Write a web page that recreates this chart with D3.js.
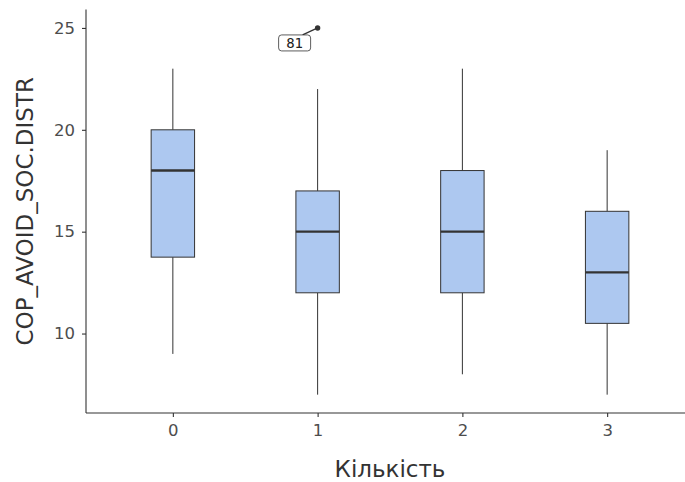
<!DOCTYPE html>
<html>
<head>
<meta charset="utf-8">
<script src="https://cdn.jsdelivr.net/npm/d3@7"></script>
<style>
  body { margin: 0; background: #fff; }
  svg { display: block; font-family: "DejaVu Sans", sans-serif; }
</style>
</head>
<body>
<svg id="chart" width="685" height="482"></svg>
<script>
// Box summaries per group
const categories = ["0", "1", "2", "3"];
const whiskerLow  = [9, 7, 8, 7];
const q1          = [13.75, 12, 12, 10.5];
const median      = [18, 15, 15, 13];
const q3          = [20, 17, 18, 16];
const whiskerHigh = [23, 22, 23, 19];
// Outlying observation with its row label
const outliers = [{ cat: "1", value: 25, label: "81" }];
const yTicks = [10, 15, 20, 25];

const svg = d3.select("#chart");
const plotLeft = 86, plotRight = 694, plotTop = 9.6, plotBottom = 413;

// discrete axis with 0.6 unit expansion each side
const x = d3.scalePoint().domain(categories).range([plotLeft, plotRight]).padding(0.6);
const step = x.step();
const y = d3.scaleLinear().domain([6.1, 25.9]).range([plotBottom, plotTop]);

const boxW = step * 0.3;
const fill = "#adc8f0", stroke = "#333333";

const g = svg.append("g");
categories.forEach((c, i) => {
  const cx = x(c);
  g.append("line").attr("x1", cx).attr("x2", cx)
    .attr("y1", y(whiskerHigh[i])).attr("y2", y(q3[i]))
    .attr("stroke", stroke).attr("stroke-width", 1);
  g.append("line").attr("x1", cx).attr("x2", cx)
    .attr("y1", y(q1[i])).attr("y2", y(whiskerLow[i]))
    .attr("stroke", stroke).attr("stroke-width", 1);
  g.append("rect").attr("x", cx - boxW / 2).attr("width", boxW)
    .attr("y", y(q3[i])).attr("height", y(q1[i]) - y(q3[i]))
    .attr("fill", fill).attr("stroke", stroke).attr("stroke-width", 1);
  g.append("line").attr("x1", cx - boxW / 2).attr("x2", cx + boxW / 2)
    .attr("y1", y(median[i])).attr("y2", y(median[i]))
    .attr("stroke", stroke).attr("stroke-width", 2.4);
});

// outlier point and its repelled label
outliers.forEach(o => {
  const px = x(o.cat), py = y(o.value);
  const lx = px - 23, ly = py + 15;
  g.append("line").attr("x1", px).attr("y1", py).attr("x2", lx + 8).attr("y2", ly - 8)
    .attr("stroke", "#333").attr("stroke-width", 1.3);
  g.append("circle").attr("cx", px).attr("cy", py).attr("r", 2.7).attr("fill", "#333");
  g.append("rect").attr("x", lx - 16).attr("y", ly - 8).attr("width", 32).attr("height", 16)
    .attr("rx", 3).attr("fill", "#fff").attr("stroke", "#333").attr("stroke-width", 0.8);
  g.append("text").attr("x", lx).attr("y", ly + 5).attr("text-anchor", "middle")
    .attr("font-family", "DejaVu Sans Mono, monospace").attr("font-size", 14)
    .attr("fill", "#222").text(o.label);
});

// axes
const axisColor = "#333333";
const yAxis = svg.append("g").attr("transform", `translate(${plotLeft},0)`)
  .call(d3.axisLeft(y).tickValues(yTicks).tickSize(4).tickPadding(7).tickSizeOuter(0));
const xAxis = svg.append("g").attr("transform", `translate(0,${plotBottom})`)
  .call(d3.axisBottom(x).tickSize(4).tickPadding(7).tickSizeOuter(0));
[yAxis, xAxis].forEach(a => {
  a.select(".domain").attr("stroke", axisColor).attr("stroke-width", 1.1);
  a.selectAll(".tick line").attr("stroke", axisColor).attr("stroke-width", 1.1);
  a.selectAll(".tick text").attr("fill", "#4d4d4d").attr("font-size", 16.5)
    .attr("font-family", "DejaVu Sans, sans-serif");
});
yAxis.select(".domain").attr("d", `M0,${plotTop}V${plotBottom}`);
xAxis.select(".domain").attr("d", `M${plotLeft},0H${plotRight}`);

svg.append("text").attr("x", (plotLeft + plotRight) / 2).attr("y", 477)
  .attr("text-anchor", "middle").attr("font-size", 23).attr("fill", "#333")
  .text("Кількість");
svg.append("text").attr("transform", `translate(33,${(plotTop + plotBottom) / 2}) rotate(-90)`)
  .attr("text-anchor", "middle").attr("font-size", 23).attr("fill", "#333")
  .text("COP_AVOID_SOC.DISTR");
</script>
</body>
</html>
